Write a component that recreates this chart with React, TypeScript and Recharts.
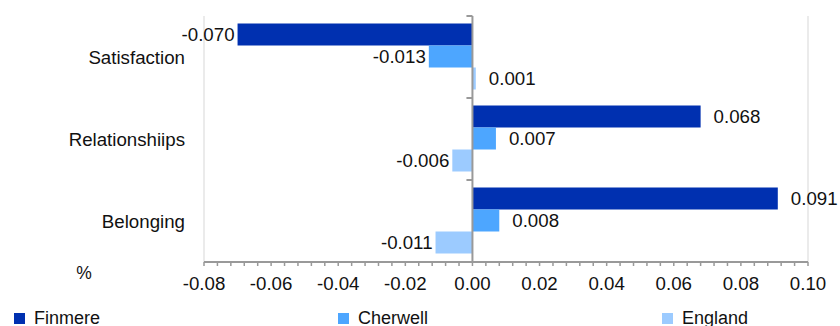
import React from 'react';
import { BarChart, Bar, XAxis, YAxis, CartesianGrid, Legend, LabelList, ReferenceLine } from 'recharts';

const categories = ['Satisfaction', 'Relationshiips', 'Belonging'];
const finmere = [-0.070, 0.068, 0.091];
const cherwell = [-0.013, 0.007, 0.008];
const england = [0.001, -0.006, -0.011];
const majorTicks = [-0.08, -0.06, -0.04, -0.02, 0, 0.02, 0.04, 0.06, 0.08, 0.10];

const series = [
  { key: 'finmere', name: 'Finmere', color: '#0030b0' },
  { key: 'cherwell', name: 'Cherwell', color: '#4da6ff' },
  { key: 'england', name: 'England', color: '#9ccbff' },
];

const data = categories.map((name, i) => ({
  name,
  finmere: finmere[i],
  cherwell: cherwell[i],
  england: england[i],
}));

// minor ticks: 5 per major step
const minorTicks: number[] = [];
majorTicks.forEach((t, i) => {
  if (i === majorTicks.length - 1) {
    minorTicks.push(t);
    return;
  }
  const step = (majorTicks[i + 1] - t) / 5;
  for (let k = 0; k < 5; k++) minorTicks.push(Math.round((t + k * step) * 10000) / 10000);
});

const isMajor = (v: number) => majorTicks.some((m) => Math.abs(m - v) < 1e-6);

const FONT = '"Liberation Sans", Arial, sans-serif';
const AXIS = '#999';

const ValueLabel = (props: any) => {
  const { x, y, width, height, value } = props;
  const left = Math.min(x, x + width);
  const right = Math.max(x, x + width);
  const pos = value >= 0;
  return (
    <text
      x={pos ? right + 13 : left - 3}
      y={y + height / 2}
      textAnchor={pos ? 'start' : 'end'}
      dominantBaseline="central"
      fontFamily={FONT}
      fontSize={18.7}
      fill="#111"
    >
      {Number(value).toFixed(3)}
    </text>
  );
};

const ZeroAxis = (props: any) => {
  const { x1, y1, y2 } = props;
  const n = categories.length;
  const band = (y2 - y1) / n;
  return (
    <g>
      <line x1={x1} y1={y1} x2={x1} y2={y2} stroke={AXIS} strokeWidth={2} />
      {Array.from({ length: n + 1 }, (_, i) => (
        <line key={i} x1={x1 - 6} x2={x1} y1={y1 + i * band} y2={y1 + i * band} stroke={AXIS} strokeWidth={2} />
      ))}
    </g>
  );
};

const renderLegend = () => (
  <div style={{ position: 'relative', height: 24, fontFamily: FONT, fontSize: 18, color: '#111' }}>
    {series.map((s, i) => (
      <div
        key={s.key}
        style={{ position: 'absolute', left: 14 + i * 324, top: 0, height: 24, display: 'flex', alignItems: 'center' }}
      >
        <span style={{ display: 'inline-block', width: 11, height: 11, background: s.color, marginRight: 9 }} />
        <span>{s.name}</span>
      </div>
    ))}
  </div>
);

export default function App() {
  return (
    <div style={{ position: 'absolute', left: 0, top: 0, width: 840, height: 326, overflow: 'hidden', background: '#fff' }}>
      <BarChart
        width={840}
        height={340}
        data={data}
        layout="vertical"
        margin={{ top: 16, right: 32, bottom: 10, left: 0 }}
        barCategoryGap={7.5}
        barGap={0}
      >
        <CartesianGrid xAxisId="grid" horizontal={false} stroke="#ebebeb" strokeWidth={2} />
        <XAxis
          xAxisId="main"
          type="number"
          domain={[-0.08, 0.1]}
          ticks={minorTicks}
          interval={0}
          height={44}
          tickSize={4}
          tickMargin={11}
          axisLine={{ stroke: AXIS, strokeWidth: 2 }}
          tickLine={{ stroke: AXIS, strokeWidth: 1.5 }}
          tick={{ fontFamily: FONT, fontSize: 18.7, fill: '#111' }}
          tickFormatter={(v: number) => (isMajor(v) ? (Math.abs(v) < 1e-9 ? 0 : v).toFixed(2) : '')}
          label={{
            content: (p: any) => (
              <text
                x={p.viewBox.x - 120}
                y={p.viewBox.y + 11}
                textAnchor="middle"
                dominantBaseline="central"
                fontFamily={FONT}
                fontSize={17.5}
                fill="#111"
              >
                %
              </text>
            ),
          }}
        />
        <XAxis xAxisId="grid" type="number" domain={[-0.08, 0.1]} ticks={majorTicks} height={0} hide />
        <YAxis
          type="category"
          dataKey="name"
          width={204}
          axisLine={false}
          tickLine={false}
          tickSize={0}
          tickMargin={19}
          tick={{ fontFamily: FONT, fontSize: 18.7, fill: '#111' }}
        />
        {series.map((s) => (
          <Bar key={s.key} xAxisId="main" dataKey={s.key} name={s.name} fill={s.color} isAnimationActive={false}>
            <LabelList dataKey={s.key} content={ValueLabel} />
          </Bar>
        ))}
        <ReferenceLine xAxisId="main" x={0} shape={ZeroAxis} />
        <Legend verticalAlign="bottom" content={renderLegend} wrapperStyle={{ left: 0, width: 840 }} />
      </BarChart>
    </div>
  );
}
